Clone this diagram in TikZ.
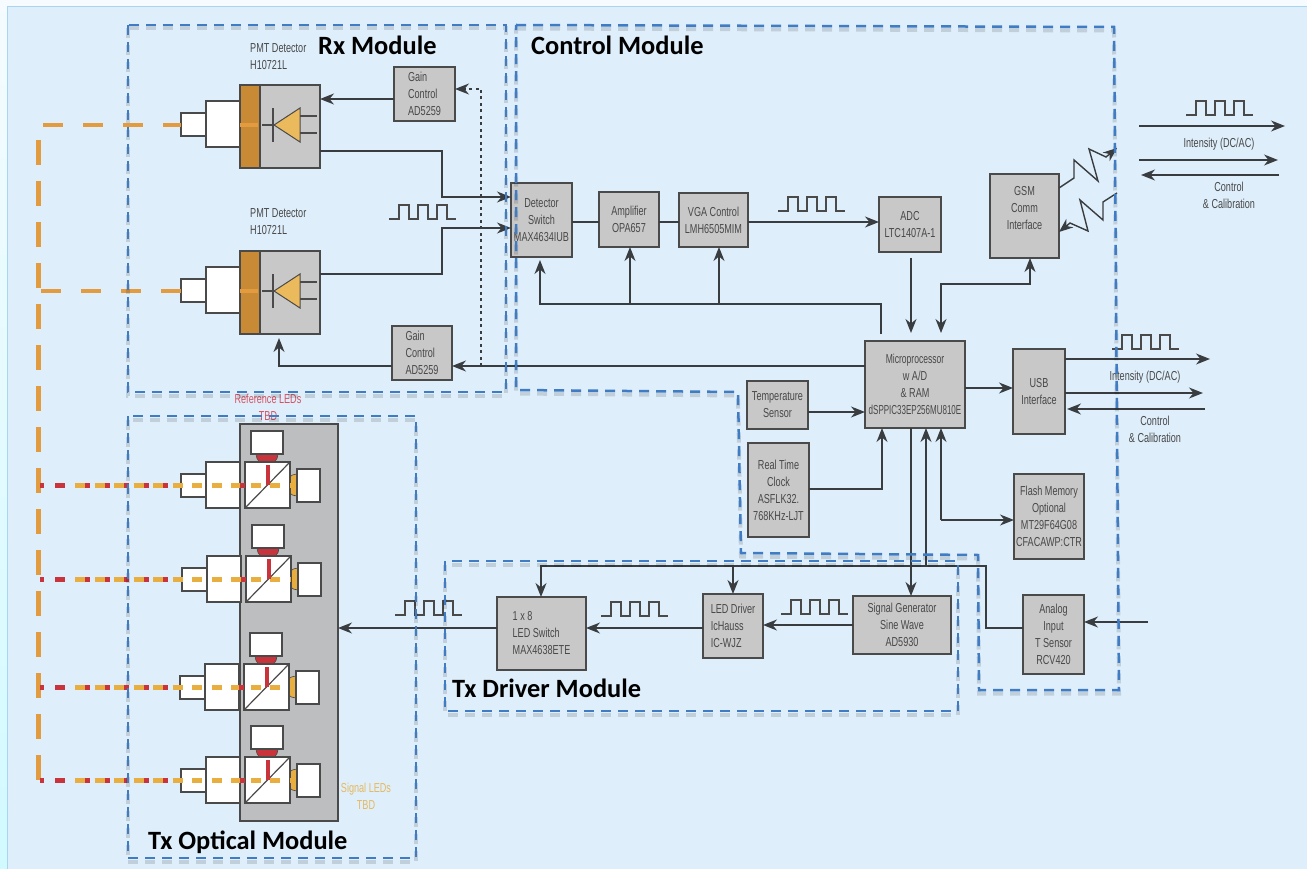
\documentclass[tikz,border=0pt]{standalone}
\usepackage{fontspec}
\usepackage{graphicx}
\usetikzlibrary{arrows.meta,calc}
\newfontfamily\labfont[FakeStretch=0.70]{Liberation Sans}
\newfontfamily\headfont[Ligatures=TeX]{Carlito}
\definecolor{pagebg}{HTML}{F5FBFE}
\definecolor{panelbg}{HTML}{DEEEFB}
\definecolor{panelline}{HTML}{A8D6F0}
\definecolor{boxfill}{HTML}{C8C8C9}
\definecolor{boxline}{HTML}{4A4A4A}
\definecolor{panelgray}{HTML}{BDBEC0}
\definecolor{wirecol}{HTML}{3A3D40}
\definecolor{txtcol}{HTML}{484848}
\definecolor{modblue}{HTML}{3F7CC4}
\definecolor{orangeA}{HTML}{E29B3E}
\definecolor{orangeB}{HTML}{E8AE3F}
\definecolor{orangeC}{HTML}{C98A35}
\definecolor{redA}{HTML}{C9343C}
\definecolor{redlab}{HTML}{D9505F}
\definecolor{yellab}{HTML}{E6B95F}
\tikzset{
  x=1pt,y=-1pt,
  lab/.style={font=\labfont\fontsize{13}{17}\selectfont,text=txtcol,align=center},
  blk/.style={draw=boxline,fill=boxfill,line width=1.4,inner sep=0,outer sep=0,lab},
  wbox/.style={draw=boxline,fill=white,line width=1.2,inner sep=0,outer sep=0},
  plainblk/.style={draw=boxline,fill=#1,line width=1.4,inner sep=0,outer sep=0},
  wire/.style={draw=wirecol,line width=1.4},
  arr/.style={wire,-{Stealth[length=14pt,width=11pt,inset=4.5pt]}},
  darr/.style={wire,{Stealth[length=14pt,width=11pt,inset=4.5pt]}-{Stealth[length=14pt,width=11pt,inset=4.5pt]}},
  pulsew/.style={draw=boxline,line width=1.2},
  modbox/.style={draw=modblue,line width=2.5,dash pattern=on 10pt off 7pt},
  modshadow/.style={draw=black,opacity=.13,line width=4,dash pattern=on 10pt off 7pt,shift={(0,3.5)}},
  head/.style={font=\headfont\bfseries\fontsize{26.4}{28}\selectfont,text=black,anchor=west,inner sep=0},
  fibre/.style={draw=orangeA,line width=4.5,dash pattern=on 20pt off 20pt},
  trunk/.style={draw=orangeA,line width=5,dash pattern=on 25pt off 16pt},
  sigA/.style={draw=orangeB,line width=5,dash pattern=on 10pt off 9.5pt},
  sigB/.style={draw=redA,line width=5,dash pattern=on 5pt off 14.5pt},
  sigC/.style={draw=redA,line width=5},
}
% box: name, x1, y1, x2, y2, text
\newcommand\bx[6]{\node[blk,minimum width={(#4-#2)*1pt},minimum height={(#5-#3)*1pt}] (#1) at ({(#2+#4)/2},{(#3+#5)/2}) {#6};}
\newcommand\rct[6]{\node[#6,minimum width={(#4-(#2))*1pt},minimum height={(#5-(#3))*1pt}] (#1) at ({(#2+#4)/2},{(#3+#5)/2}) {};}
\newcommand\pulse[2]{\draw[pulsew] (#1,#2) -- ++(10,0) -- ++(0,-14) -- ++(10,0) -- ++(0,14) -- ++(9,0) -- ++(0,-14) -- ++(10,0) -- ++(0,14) -- ++(9,0) -- ++(0,-14) -- ++(10,0) -- ++(0,14) -- ++(9,0);}
% PMT: name, top y
\newcommand\pmt[2]{%
  \rct{#1s}{181}{#2+28}{206}{#2+51}{wbox}
  \rct{#1b}{206}{#2+16}{240}{#2+62}{wbox}
  \rct{#1g}{240}{#2}{320}{#2+83}{plainblk=boxfill}
  \rct{#1o}{240}{#2}{260}{#2+83}{plainblk=orangeC}
  \draw[orangeA,line width=4.5] (240,#2+40) -- (258,#2+40);
  \fill[orangeB!85!white,draw=boxline,line width=1] (300,#2+23) -- (300,#2+57) -- (274,#2+40) -- cycle;
  \draw[boxline,line width=1.2] (273,#2+23) -- (273,#2+57) (262,#2+40) -- (274,#2+40) (300,#2+31) -- (317,#2+31) (300,#2+48) -- (317,#2+48);
}
% Tx unit: name, centre y, x shift
\newcommand\txu[3]{%
  \begin{scope}[shift={(#3,#2)}]
  \fill[redA,draw=boxline,line width=.6] (256,-31) arc[start angle=180,end angle=0,radius=11];
  \fill[orangeB,draw=boxline,line width=.6] (297,-11) arc[start angle=-90,end angle=-270,radius=11];
  \rct{#1t}{251}{-54}{283}{-31}{wbox}
  \rct{#1r}{297}{-16}{320}{17}{wbox}
  \rct{#1s}{181}{-11}{206}{12}{wbox}
  \rct{#1b}{206}{-23}{240}{23}{wbox}
  \rct{#1c}{245}{-23}{290}{23}{wbox}
  \draw[boxline,line width=1.2] (#1c.south west) -- (#1c.north east);
  \end{scope}
}
\newcommand\txline[2]{%
  \draw[sigC] (40,#2) -- (44,#2) (55,#2) -- (65,#2) (75,#2) -- (78,#2);
  \draw[sigA] (75,#2) -- (#1c.east |- 0,#2);
  \draw[sigB] (85,#2) -- (#1s.west |- 0,#2);
  \draw[sigC] (#1c.west |- 0,#2) ++(-5,0) -- (#1c.west |- 0,#2);
  \draw[redA,line width=4] ($(#1c.center)+(0,-20)$) -- (#1c.center);
}
\begin{document}
\begin{tikzpicture}
\useasboundingbox (0,0) rectangle (1307,869);
\fill[pagebg] (0,0) rectangle (1307,869);
\shade[top color=pagebg,bottom color=blue!10!cyan!18!white] (0,0) rectangle (7,869);
\fill[panelbg,draw=panelline,line width=.8] (7.5,6.5) rectangle (1307.5,880);

% trunk fibre
\draw[trunk] (38,140) -- (38,784);

% PMTs
\pmt{pa}{85}
\pmt{pc}{251}
\coordinate (fa) at (43,125); \coordinate (fc) at (41,291);
\draw[fibre] (fa) -- (pas.west |- fa);
\draw[fibre] (fc) -- (pcs.west |- fc);
\node[lab,align=left,anchor=north west,inner sep=0] (pla) at (250,43) {PMT Detector\\H10721L};
\node[lab,align=left,anchor=north west,inner sep=0] (plc) at (250,208) {PMT Detector\\H10721L};

% blocks
\node[blk,align=left,minimum width=61pt,minimum height=54pt] (gta) at (424.5,94) {Gain\\Control\\AD5259};
\node[blk,align=left,minimum width=60pt,minimum height=54pt] (gtb) at (422,353) {Gain\\Control\\AD5259};
\bx{det}{511}{183}{572}{257}{Detector\\Switch\\MAX4634IUB}
\bx{amp}{599}{192}{659}{247}{Amplifier\\OPA657}
\bx{vga}{679}{193}{748}{247}{VGA Control\\LMH6505MIM}
\bx{adc}{879}{197}{941}{252}{ADC\\LTC1407A-1}
\bx{gsm}{990}{174}{1059}{258}{GSM\\Comm\\Interface\\{}}
\bx{mic}{865}{341}{965}{428}{\scalebox{.94}[1]{Microprocessor}\\w A/D\\\& RAM\\\scalebox{.88}[1]{dSPPIC33EP256MU810E}}
\bx{usb}{1013}{349}{1065}{434}{USB\\Interface}
\bx{tmp}{747}{381}{808}{429}{Temperature\\Sensor}
\bx{rtc}{748}{443}{809}{537}{Real Time\\Clock\\ASFLK32.\\768KHz-LJT}
\bx{fla}{1014}{474}{1084}{559}{Flash Memory\\Optional\\MT29F64G08\\CFACAWP:CTR}
\bx{ana}{1023}{595}{1084}{674}{Analog\\Input\\T Sensor\\RCV420}
\bx{sig}{853}{596}{951}{654}{Signal Generator\\Sine Wave\\AD5930}
\node[blk,align=left,minimum width=60pt,minimum height=64pt] (drv) at (733,626) {LED Driver\\IcHauss\\IC-WJZ};
\node[blk,align=left,minimum width=89pt,minimum height=73pt] (swi) at (541.5,633.5) {1 x 8\\LED Switch\\MAX4638ETE};

% Tx panel
\rct{txp}{240}{424}{338}{821}{plainblk=panelgray}
\txu{ua}{485}{0}
\txu{ub}{579}{1}
\txu{uc}{687}{-1}
\txu{ud}{780}{0}
\txline{ua}{485}
\txline{ub}{579}
\txline{uc}{687}
\txline{ud}{780}

% wires: Rx
\draw[arr] (gta.west |- 0,99) -- (pag.east |- 0,99);
\draw[arr] (pag.east |- 0,151) -- (442,151) -- (442,197) -- (det.west |- 0,197);
\draw[arr] (pcg.east |- 0,274) -- (442,274) -- (442,228) -- (det.west |- 0,228);
\draw[arr] (mic.west |- 0,366) -- (gtb.east |- 0,366);
\draw[arr] (gtb.west |- 0,366) -- (279,366) -- (279,338);
\draw[wire,line width=1.2,dash pattern=on 3pt off 3.5pt,-{Stealth[length=14pt,width=11pt,inset=4.5pt]}] (481,366) -- (481,89) -- (gta.east |- 0,89);

% wires: control
\draw[wire] (det.east |- 0,222) -- (amp.west |- 0,222);
\draw[wire] (amp.east |- 0,222) -- (vga.west |- 0,222);
\draw[arr] (vga.east |- 0,222) -- (adc.west |- 0,222);
\coordinate (fbk) at (881,334);
\draw[arr] (fbk) -- (881,304) -- (540,304) -- (540,260);
\draw[arr] (630,304) -- (amp.south -| 630,0);
\draw[arr] (719,304) -- (vga.south -| 719,0);
\coordinate (adcout) at (911,258);
\draw[arr] (adcout) -- (911,333);
\coordinate (micg) at (941,333);
\draw[darr] (micg) -- (941,284) -- (1030,284) -- (gsm.south -| 1030,0);
\draw[arr] (mic.east |- 0,388) -- (usb.west |- 0,388);
\draw[arr] (tmp.east |- 0,412) -- (mic.west |- 0,412);
\draw[arr] (rtc.east |- 0,489) -- (882,489) -- (mic.south -| 882,0);
\draw[arr] (941,520) -- (mic.south -| 941,0);
\draw[arr] (941,520) -- (fla.west |- 0,520);
\draw[arr] (mic.south -| 911,0) -- (sig.north -| 911,0);
\draw[arr] (ana.west |- 0,628) -- (986,628) -- (986,566) -- (926,566) -- (mic.south -| 926,0);
\draw[arr] (926,566) -- (541,566) -- (swi.north -| 541,0);
\draw[arr] (733,566) -- (drv.north -| 733,0);
\coordinate (anain) at (1148,622);
\draw[arr] (anain) -- (ana.east |- anain);

% wires: Tx
\draw[arr] (sig.west |- 0,625) -- (drv.east |- 0,625);
\draw[arr] (drv.west |- 0,628) -- (swi.east |- 0,628);
\draw[arr] (swi.west |- 0,628) -- (txp.east |- 0,628);

% GSM antennas
\coordinate (gAo) at (1117,148); \coordinate (gBi) at (1117,193);
\draw[arr] (gsm.east |- 0,188) -- (1074,178) -- (1074,160) -- (1098,181) -- (1089,149) -- (1106,157) -- (gAo);
\draw[arr] (gBi) -- (1103,202) -- (1103,220) -- (1080,200) -- (1088,231) -- (1070,223) -- (gsm.east |- 0,232);

% external
\coordinate (e1a) at (1139,126); \coordinate (e1b) at (1285,126);
\coordinate (e2a) at (1139,160); \coordinate (e2b) at (1278,160);
\coordinate (e3a) at (1279,175); \coordinate (e3b) at (1141,175);
\draw[arr] (e1a) -- (e1b);
\draw[arr] (e2a) -- (e2b);
\draw[arr] (e3a) -- (e3b);
\coordinate (u1) at (1210,359); \coordinate (u2) at (1203,393); \coordinate (u3) at (1205,409);
\draw[arr] (usb.east |- u1) -- (u1);
\draw[arr] (usb.east |- u2) -- (u2);
\draw[arr] (u3) -- (1067,409);

% pulses
\pulse{389}{219}
\pulse{778}{211}
\pulse{1186}{115}
\pulse{1112}{349}
\pulse{395}{615}
\pulse{601}{616}
\pulse{781}{614}

% free labels
\node[lab] (l1) at (1219,144) {Intensity (DC/AC)};
\node[lab] (l2) at (1229,195) {Control\\\& Calibration};
\node[lab] (l3) at (1145,377) {Intensity (DC/AC)};
\node[lab] (l4) at (1155,429) {Control\\\& Calibration};
\node[lab,text=redlab] (l5) at (268,407) {Reference LEDs\\TBD};
\node[lab,text=yellab] (l6) at (366,796) {Signal LEDs\\TBD};

% modules
\path[modshadow] (128,25) rectangle (506,392);
\path[modshadow] (516,25) -- (1114,27) -- (1119,690) -- (979,690) -- (978,555) -- (741,553) -- (738,392) -- (516,390) -- cycle;
\path[modshadow] (128,416) rectangle (416,858);
\path[modshadow] (445,561) rectangle (958,711);
\draw[modbox] (128,25) rectangle (506,392);
\draw[modbox] (516,25) -- (1114,27) -- (1119,690) -- (979,690) -- (978,555) -- (741,553) -- (738,392) -- (516,390) -- cycle;
\draw[modbox] (128,416) rectangle (416,858);
\draw[modbox] (445,561) rectangle (958,711);

\node[head] (h1) at (318,45) {Rx Module};
\node[head] (h2) at (531,45) {Control Module};
\node[head] (h3) at (452,688) {Tx Driver Module};
\node[head] (h4) at (148,842) {Tx Optical Module};
\end{tikzpicture}
\end{document}
